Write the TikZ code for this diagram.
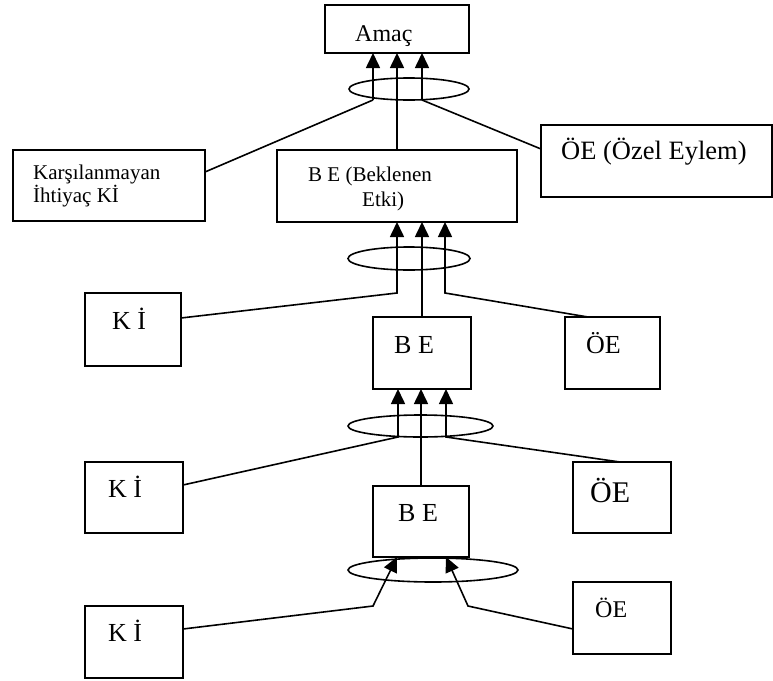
\documentclass[tikz,border=0pt]{standalone}
\usepackage{fontspec}
\setmainfont{Liberation Serif}
\usetikzlibrary{shapes.geometric,arrows.meta,calc}
\begin{document}
\begin{tikzpicture}[x=1pt,y=-1pt,
  box/.style={draw,line width=1.6pt,inner sep=0pt,outer sep=0pt,anchor=north west},
  oval/.style={draw,ellipse,line width=1.6pt,inner sep=0pt,outer sep=0pt},
  lbl/.style={anchor=base west,inner sep=0pt,font=\fontsize{#1pt}{#1pt}\selectfont},
  con/.style={line width=1.6pt},
  arr/.style={line width=1.6pt,-{Triangle[length=15pt,width=14pt]}}]
\useasboundingbox (0,0) rectangle (773,680);

% boxes
\node[box,minimum width=144pt,minimum height=48pt] (amac) at (325,5) {};
\node[box,minimum width=192pt,minimum height=71pt] (kn) at (13,150) {};
\node[box,minimum width=240pt,minimum height=72pt] (be1) at (277,150) {};
\node[box,minimum width=231pt,minimum height=72pt] (oe1) at (541,125) {};
\node[box,minimum width=96pt,minimum height=73pt] (ki2) at (85,293) {};
\node[box,minimum width=98pt,minimum height=72pt] (be2) at (373,317) {};
\node[box,minimum width=95pt,minimum height=72pt] (oe2) at (565,317) {};
\node[box,minimum width=98pt,minimum height=71pt] (ki3) at (85,462) {};
\node[box,minimum width=96pt,minimum height=71pt] (be3) at (373,486) {};
\node[box,minimum width=98pt,minimum height=71pt] (oe3) at (573,462) {};
\node[box,minimum width=98pt,minimum height=72pt] (ki4) at (85,606) {};
\node[box,minimum width=98pt,minimum height=72pt] (oe4) at (573,582) {};

% ellipses
\node[oval,minimum width=120pt,minimum height=22pt] (e1) at (409,89) {};
\node[oval,minimum width=122pt,minimum height=23pt] (e2) at (409,258.5) {};
\node[oval,minimum width=145pt,minimum height=22pt] (e3) at (420.5,426) {};
\node[oval,minimum width=170pt,minimum height=24pt] (e4) at (433,570) {};

% texts
\node[lbl=24] (tamac) at (355,41) {Amaç};
\node[lbl=21] (tkn1) at (33,179) {Karşılanmayan};
\node[lbl=21] (tkn2) at (33,202) {İhtiyaç Kİ};
\node[lbl=21] (tbe1a) at (308,181) {B E (Beklenen};
\node[lbl=21] (tbe1b) at (362,206) {Etki)};
\node[lbl=26.5] (toe1) at (561,159) {ÖE (Özel Eylem)};
\node[lbl=26] (tki2) at (112,329) {K İ};
\node[lbl=26] (tki3) at (108,497) {K İ};
\node[lbl=26] (tki4) at (108,641) {K İ};
\node[lbl=26] (tbe2) at (394,353) {B E};
\node[lbl=26] (tbe3) at (398,521) {B E};
\node[lbl=26] (toe2) at (586,353) {ÖE};
\node[lbl=30] (toe3) at (590,502) {ÖE};
\node[lbl=24] (toe4) at (595,617) {ÖE};

% bend points
\coordinate (b1l) at (373,100);
\coordinate (b1r) at (422,100);
\coordinate (b2l) at (397,293);
\coordinate (b2r) at (445,293);
\coordinate (b3l) at (398,437);
\coordinate (b3r) at (446,437);
\coordinate (b4l) at (373,606);
\coordinate (b4r) at (468,606);

% group 1
\draw[con] ([yshift=13.5pt]kn.east) -- (b1l);
\draw[arr] (b1l) -- (b1l |- amac.south);
\draw[arr] (be1.north) -- (amac.south);
\draw[con] ([yshift=12pt]oe1.west) -- (b1r);
\draw[arr] (b1r) -- (b1r |- amac.south);

% group 2
\draw[arr] ([yshift=11.5pt]ki2.east) -- (b2l) -- (b2l |- be1.south);
\draw[arr] (be2.north) -- (be2.north |- be1.south);
\draw[arr] ([xshift=-24.5pt]oe2.north) -- (b2r) -- (b2r |- be1.south);

% group 3
\draw[arr] ([yshift=12.5pt]ki3.east) -- (b3l) -- (b3l |- be2.south);
\draw[arr] (be3.north) -- (be3.north |- be2.south);
\draw[arr] ([xshift=-2pt]oe3.north) -- (b3r) -- (b3r |- be2.south);

% group 4
\draw[arr] ([yshift=13pt]ki4.east) -- (b4l) -- ([xshift=-24pt]be3.south);
\draw[arr] ([yshift=-11pt]oe4.west) -- (b4r) -- ([xshift=25pt]be3.south);
\end{tikzpicture}
\end{document}
